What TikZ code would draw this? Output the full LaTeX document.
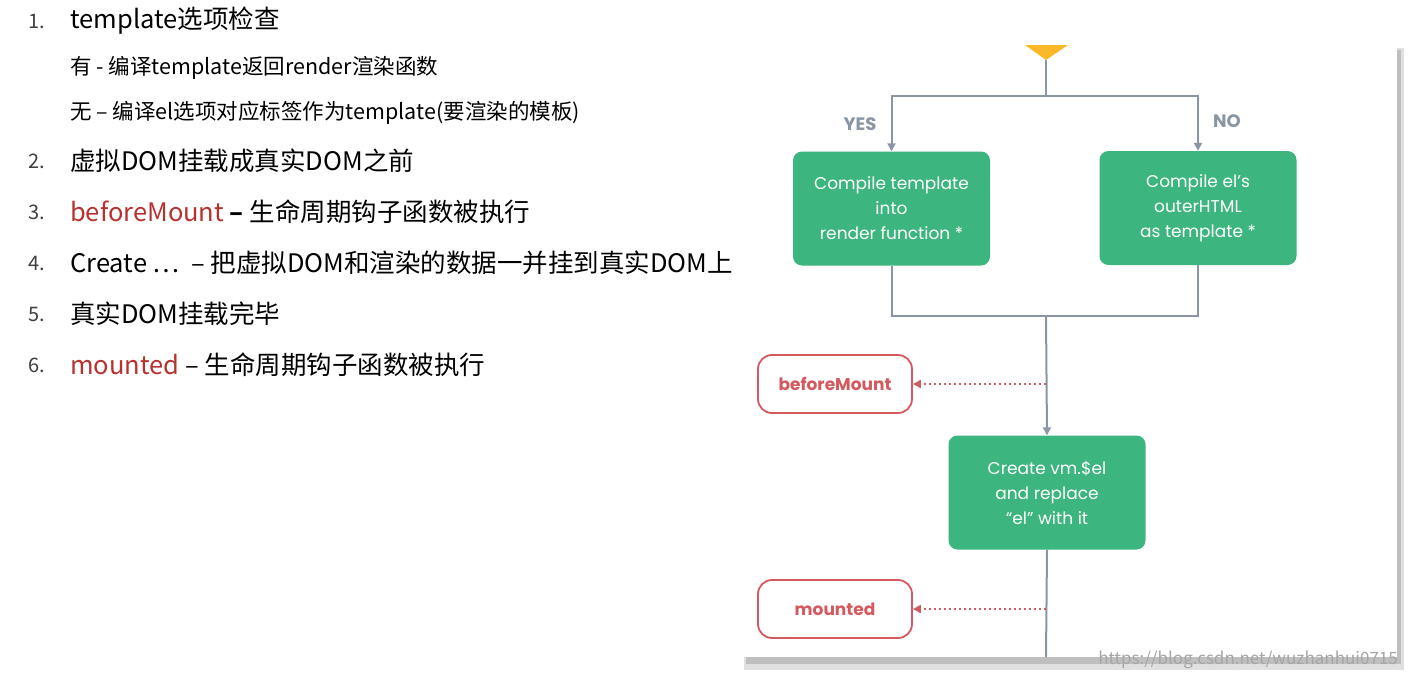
\documentclass[tikz,border=0pt]{standalone}
\usepackage{fontspec}
\setmainfont{Noto Sans CJK SC}
\newfontfamily\dfont{Poppins}
\usetikzlibrary{arrows.meta,shadows}
\definecolor{vgreen}{HTML}{3DB57E}
\definecolor{vgrey}{HTML}{8A96A3}
\definecolor{vred}{HTML}{D45A5F}
\definecolor{tred}{HTML}{B8312F}
\definecolor{vorange}{HTML}{FBB928}
\begin{document}
\begin{tikzpicture}[x=1pt,y=-1pt,
  txt/.style={anchor=west,inner sep=0pt,font=\fontsize{25.5}{28}\selectfont},
  sub/.style={anchor=west,inner sep=0pt,font=\fontsize{21.5}{24}\selectfont},
  num/.style={anchor=west,inner sep=0pt,font=\fontsize{20}{24}\selectfont,text=black!75},
  gbox/.style={draw=none,fill=vgreen,rounded corners=9pt,text=white,align=center,font=\dfont\fontsize{17}{25}\selectfont,minimum width=197pt,minimum height=114pt,inner sep=0pt},
  hook/.style={draw=vred,line width=1.8pt,rounded corners=14pt,text=vred,font=\dfont\bfseries\fontsize{17}{20}\selectfont,minimum width=154pt,minimum height=58pt,fill=white},
  flow/.style={draw=vgrey,line width=2pt},
  arr/.style={flow,-{Triangle[length=8pt,width=8pt]}},
  dot/.style={draw=vred,line width=2.5pt,dash pattern=on 2.5pt off 2.5pt,-{Triangle[length=8pt,width=8pt]}},
  lab/.style={text=vgrey,font=\dfont\bfseries\fontsize{18}{20}\selectfont}]
\useasboundingbox (0,0) rectangle (1408,678);
\fill[white] (0,0) rectangle (1408,678);
% left text
\node[num] (n1) at (28,21) {1.};
\node[txt] (t1) at (70,21) {template选项检查};
\node[sub] (s1) at (70,68) {有 - 编译template返回render渲染函数};
\node[sub] (s2) at (70,113) {无 – 编译el选项对应标签作为template(要渲染的模板)};
\node[num] (n2) at (28,161) {2.};
\node[txt] (t2) at (70,161) {虚拟DOM挂载成真实DOM之前};
\node[num] (n3) at (28,212) {3.};
\node[txt] (t3) at (70,212) {\textcolor{tred}{beforeMount} \textbf{–} 生命周期钩子函数被执行};
\node[num] (n4) at (28,263) {4.};
\node[txt] (t4) at (70,263) {Create …\ \ – 把虚拟DOM和渲染的数据一并挂到真实DOM上};
\node[num] (n5) at (28,314) {5.};
\node[txt] (t5) at (70,314) {真实DOM挂载完毕};
\node[num] (n6) at (28,365) {6.};
\node[txt] (t6) at (70,365) {\textcolor{tred}{mounted} – 生命周期钩子函数被执行};
% panel
\fill[black!12] (744,48) rectangle (1404,670);
\fill[black!25] (746,50) rectangle (1401,664);
\fill[white] (742,45) rectangle (1397,657);
\fill[vorange] (1025,45) -- (1068,45) -- (1046,60) -- cycle;
\coordinate (top) at (1046,60);
\coordinate (split) at (1046,96);
\node[gbox] (b1) at (891.5,208.5) {Compile template\\into\\render function *};
\node[gbox] (b2) at (1198,208) {Compile el’s\\outerHTML\\as template *};
\node[gbox] (b3) at (1047,492.5) {Create vm.\$el\\and replace\\“el” with it};
\node[hook] (h1) at (835,384) {beforeMount};
\node[hook] (h2) at (835,609) {mounted};
\coordinate (join) at (1046,316);
\coordinate (bot) at (1046,657);
\draw[flow] (top) -- (split);
\draw[arr] (split) -| (b1.north);
\draw[arr] (split) -| (b2.north);
\draw[flow] (b1.south) |- (join);
\draw[flow] (b2.south) |- (join);
\draw[arr] (join) -- (b3.north);
\draw[flow] (b3.south) -- (bot);
\coordinate (d1) at (1046,384);
\coordinate (d2) at (1046,609);
\draw[dot] (d1) -- (h1.east);
\draw[dot] (d2) -- (h2.east);
\node[lab] (yes) at (860,124) {YES};
\node[lab] (no) at (1227,121) {NO};
\node[anchor=east,text=black!35,font=\fontsize{17}{18}\selectfont,inner sep=0pt] (wm) at (1398,660) {https://blog.csdn.net/wuzhanhui0715};
\end{tikzpicture}
\end{document}
